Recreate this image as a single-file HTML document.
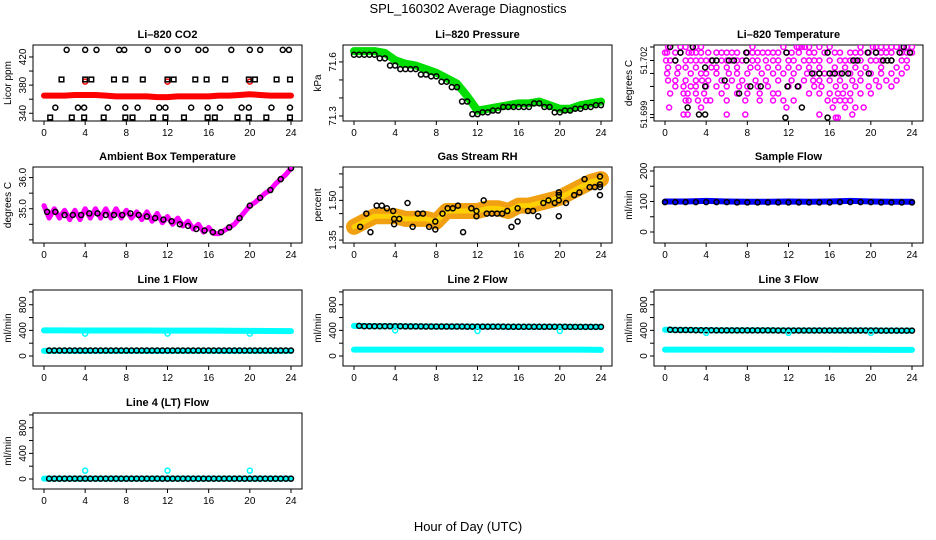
<!DOCTYPE html>
<html><head><meta charset="utf-8"><style>
html,body{margin:0;padding:0;background:#fff}
svg{display:block;font-family:"Liberation Sans",sans-serif}
</style></head><body>
<svg id="chart" width="936" height="540" viewBox="0 0 936 540">
<text x="468" y="13" text-anchor="middle" font-size="13">SPL_160302  Average Diagnostics</text>
<text x="468" y="531" text-anchor="middle" font-size="13">Hour of Day (UTC)</text>
</svg>
<script>
const xTicks=[0,4,8,12,16,20,24];
// CO2
const co2BandHour=[0,1,2,3,4,5,6,7,8,9,10,11,12,13,14,15,16,17,18,19,20,21,22,23,24];
const co2BandVal=[365,365,365,366,366,366,365,364,364,364,364,363,363,364,364,364,364,365,365,366,367,366,365,365,365];
const co2BlackHour=[2.2,4,5.1,7.3,7.8,10.1,12,13,15,15.7,18.2,20,21,23.2,23.8,1.7,4,4.6,6.8,7.9,9.6,12,12.6,14.7,15.8,17.6,19.9,20.5,22.6,23.9,1.1,3.3,3.9,6.2,7.9,9.1,11.2,11.8,14.3,15.9,17.1,19.2,19.9,22.1,23.9,0.6,2.7,3.9,5.8,7.9,8.6,10.6,11.8,13.6,15.9,16.6,18.8,19.9,21.6,23.9];
const co2BlackVal=[430,430,430,430,430,430,430,430,430,430,430,430,430,430,430,388,388,388,388,388,388,388,388,388,388,388,388,388,388,388,348,348,348,348,348,348,348,348,348,348,348,348,348,348,348,334,334,334,334,334,334,334,334,334,334,334,334,334,334,334];
const co2OutHour=[4,12,20];
const co2OutVal=[385,385,385];
// Pressure
const presHour=[0,1,2,3,4,5,6,7,8,9,10,11,12,13,14,15,16,17,18,19,20,21,22,23,24];
const presVal=[71.66,71.66,71.66,71.65,71.61,71.59,71.58,71.56,71.54,71.51,71.48,71.41,71.33,71.34,71.35,71.36,71.37,71.37,71.38,71.36,71.34,71.34,71.36,71.37,71.38];
const presBlack=[71.64,71.64,71.64,71.62,71.58,71.56,71.56,71.53,71.52,71.49,71.46,71.38,71.31,71.32,71.33,71.35,71.35,71.35,71.37,71.35,71.32,71.33,71.34,71.35,71.36];
// Temperature
const tempLevels=[51.70275,51.70244,51.702,51.70161,51.70128,51.70089,51.70056,51.70017,51.69978,51.69939,51.699,51.69883];
const tempHours=[
[0.3,0.5,1.5,2,2.7,3,3.5,8.5,11.5,12.8,13,13.3,13.6,14,15,16,19,20.2,20.5,21,21.5,22,22.5,23,23.5,24],
[0,0.2,1,1.5,2.3,2.6,3,3.5,4.2,5,5.5,6,6.5,7,8,8.5,9,9.5,10,10.5,11,11.8,12.3,13,14,14.5,15.5,16.5,17,18,18.5,19,19.8,20.5,21,21.5,22,23,23.5,24],
[0.1,0.5,1,2,2.5,3,3.5,4,4.5,5.5,6,6.5,7,7.5,8.5,9,9.8,10.5,11,12,12.5,13.5,14,14.5,15,16,17,17.5,18,18.5,19,20,20.5,21,22,23,23.5],
[0.3,1.3,2,3,4.5,5,6,7,8.3,9,10,11,12,13,14,15,16.5,17.5,18.5,19.5,21,22.5,23.5],
[0.2,1.2,2.5,3.5,4,5,6.2,7,8,9.4,10.5,11.5,12.5,13.8,14.5,15.5,16.3,17,18,19,20,21,22,23],
[0.3,1,2,3,3.6,4.2,5.5,6.5,7.5,8.8,9.8,11,12.3,13.5,14.4,15,16,17,18.2,19,20.5,21.5,22.5],
[1,1.8,2.5,3,4,5,6,7.2,8,9,10,12,13,14.5,15.2,16.6,17.5,18.5,19.8,20.8,22],
[0.5,1.8,2.2,3,3.8,5.5,7,8,9.2,10.5,11,14,15,16,16.8,17.3,18,19,20],
[2,2.3,3.2,4,4.4,6,7.8,9.2,10.5,11.5,12.5,15.8,16.5,17,17.5,18],
[0.4,3.5,11.8,16.3,17.5,18.5,19.3],
[1.8,2.2,6,7.8,15,18.2],
[16.6,16.8]];
const tempBlackHour=[0.5,1.5,1,2.7,3.9,4.6,5,6.2,6.7,7.9,7.9,5.8,8.3,9.3,2.2,3.3,3.9,3.9,7.2,11.8,11.9,12.9,13.3,15.8,16,14.3,15,16.5,17.2,17.8,18.3,18.7,19.7,19.8,20.5,21.2,21.6,22,22.8,23.2,23.8,15.8,11.7];
const tempBlackVal=[51.70275,51.70244,51.702,51.70275,51.70161,51.702,51.702,51.702,51.702,51.70244,51.702,51.70089,51.70056,51.70056,51.69939,51.699,51.699,51.70056,51.70017,51.70244,51.70056,51.70056,51.69939,51.70244,51.70128,51.70128,51.70128,51.70128,51.70128,51.70128,51.702,51.702,51.70244,51.70128,51.70244,51.702,51.702,51.702,51.70244,51.70275,51.70244,51.69883,51.69883];
// Ambient
const ambHour=[0,0.5,1,1.5,2,2.5,3,3.5,4,4.5,5,5.5,6,6.5,7,7.5,8,8.5,9,9.5,10,10.5,11,11.5,12,12.5,13,13.5,14,14.5,15,15.5,16,16.5,17,17.5,18,18.5,19,19.5,20,20.5,21,21.5,22,22.5,23,23.5,24];
const ambVal=[35.1,34.7,35.0,34.7,34.95,34.65,34.95,34.65,35.0,34.7,35.0,34.7,35.0,34.7,35.0,34.7,34.95,34.7,34.9,34.65,34.9,34.6,34.85,34.55,34.75,34.5,34.7,34.45,34.6,34.35,34.5,34.25,34.4,34.2,34.2,34.3,34.4,34.5,34.7,34.9,35.1,35.2,35.35,35.5,35.6,35.8,35.95,36.1,36.3];
const ambBlackHour=[0.3,1.1,2,2.8,3.6,4.4,5.2,6,6.8,7.6,8.4,9.2,10,10.8,11.6,12.4,13.2,14,14.8,15.6,16.4,17.2,18,19,20,21,22,23,24];
const ambBlack=[34.9,34.9,34.8,34.8,34.8,34.85,34.85,34.8,34.8,34.8,34.85,34.8,34.75,34.7,34.65,34.6,34.5,34.45,34.35,34.3,34.25,34.25,34.4,34.7,35.1,35.35,35.6,35.95,36.3];
// RH
const rhHour=[0,1,2,3,4,5,6,7,8,9,10,11,12,13,14,15,16,17,18,19,20,21,22,23,24];
const rhVal=[1.40,1.42,1.44,1.44,1.44,1.43,1.43,1.43,1.42,1.46,1.46,1.46,1.46,1.47,1.47,1.46,1.48,1.48,1.49,1.50,1.51,1.53,1.55,1.57,1.58];
const rhBlackHour=[0.6,1.2,1.6,2.2,2.7,3.2,3.8,3.9,3.9,4.4,5.2,5.7,6.2,6.7,7.3,7.9,7.9,8.6,9.1,9.6,10.1,10.6,11.4,11.9,11.9,12.6,12.9,13.4,13.9,14.4,14.9,15.3,15.9,15.9,16.9,17.4,17.9,18.4,18.9,19.5,19.9,19.9,19.9,19.9,20.6,21.4,21.9,22.4,22.9,23.4,23.9,23.9,23.9,23.9];
const rhBlackVal=[1.40,1.45,1.38,1.48,1.48,1.47,1.46,1.43,1.41,1.43,1.49,1.40,1.45,1.45,1.40,1.42,1.39,1.45,1.47,1.47,1.48,1.38,1.47,1.46,1.44,1.50,1.45,1.45,1.45,1.45,1.46,1.40,1.47,1.42,1.46,1.46,1.44,1.49,1.50,1.49,1.50,1.53,1.52,1.44,1.49,1.52,1.53,1.58,1.55,1.55,1.59,1.56,1.52,1.55];
// Flows
const flowHour=[0,2,4,6,8,10,12,14,16,18,20,22,24];
const sampleBlue=[100,100,102,100,99,99,100,99,100,102,100,99,99];
const sampleBlack=[98,98,98,98,97,97,97,97,97,98,98,97,97];
const line1High=[400,400,398,398,398,398,396,396,396,394,392,390,388];
const line1Low=[80,80,80,80,80,80,80,80,80,80,80,80,80];
const line1Black=[85,85,85,85,85,85,85,85,85,85,85,85,85];
const line2High=[470,465,465,462,460,460,458,458,456,456,456,455,455];
const line2Low=[100,100,100,100,100,100,100,100,100,100,100,100,95];
const line3High=[410,405,402,400,400,400,398,398,398,398,398,396,396];
const line3Low=[100,100,100,100,100,100,100,100,100,98,98,95,95];
const line4Low=[5,5,5,5,5,5,5,5,5,5,5,5,5];
const outHour=[4,12,20];
const line1Out=[350,350,350];
const line2Out=[400,390,390];
const line3Out=[360,360,360];
const line4Out=[130,130,130];

const NS='http://www.w3.org/2000/svg';
const svg=document.getElementById('chart');
function mk(tag,attrs,parent){const e=document.createElementNS(NS,tag);for(const k in attrs)e.setAttribute(k,attrs[k]);(parent||svg).appendChild(e);return e;}
const colL=[33,343,654], colW=269;
const rowT=[45,167,290,413], rowH=76;
function panel(col,row,title,ytitle,ymin,ymax,yticks,ylabels,name,lfs){
  const L=colL[col],T=rowT[row],R=L+colW,B=T+rowH;
  const g=mk('g',{});
  
  
  const xs=h=>L+11+h*(colW-22)/24;
  const ys=v=>B-(v-ymin)/(ymax-ymin)*rowH;
  const t=mk('text',{x:(L+R)/2,y:T-7,'text-anchor':'middle','font-size':11,'font-weight':'bold'},g);t.textContent=title;
  
  
  const yt=mk('text',{x:0,y:0,'text-anchor':'middle','font-size':10,transform:`translate(${L-22},${(T+B)/2}) rotate(-90)`},g);yt.textContent=ytitle;
  
  
  const box=mk('rect',{x:L,y:T,width:colW,height:rowH,fill:'none',stroke:'#000','stroke-width':1},g);
  
  
  xTicks.forEach(h=>{const x=xs(h);mk('line',{x1:x,x2:x,y1:B,y2:B+4,stroke:'#000'},g);
    const tx=mk('text',{x:x,y:B+15,'text-anchor':'middle','font-size':10},g);tx.textContent=h;
    
    });
  yticks.forEach((v,i)=>{const y=ys(v);mk('line',{x1:L-4,x2:L,y1:y,y2:y,stroke:'#000'},g);
    if(ylabels[i]){const tx=mk('text',{x:0,y:0,'text-anchor':'middle','font-size':lfs||10,transform:`translate(${L-7},${y}) rotate(-90)`},g);tx.textContent=ylabels[i];
    
    }});
  const clip='c'+name;
  const cp=mk('clipPath',{id:clip},g);mk('rect',{x:L,y:T,width:colW,height:rowH},cp);
  const pg=mk('g',{'clip-path':`url(#${clip})`},g);
  return {xs,ys,g:pg};
}
function band(p,hours,vals,color,w,name){
  const pl=mk('polyline',{points:hours.map((h,i)=>p.xs(h)+','+p.ys(vals[i])).join(' '),fill:'none',stroke:color,'stroke-width':w,'stroke-linejoin':'round','stroke-linecap':'round'},p.g);
  
  
}
function pts(p,hours,vals,color,name,r,sq){
  hours.forEach((h,i)=>{let e;
    if(sq) e=mk('rect',{x:p.xs(h)-2.3,y:p.ys(vals[i])-2.3,width:4.6,height:4.6,fill:'none',stroke:color,'stroke-width':1.5},p.g);
    else e=mk('circle',{cx:p.xs(h),cy:p.ys(vals[i]),r:r||2.5,fill:'none',stroke:color,'stroke-width':1.5},p.g);
    
    });
}
// CO2
let p=panel(0,0,'Li\u2013820 CO2','Licor ppm',329,437,[340,360,380,400,420],['340','','380','','420'],'co2');
band(p,co2BandHour,co2BandVal,'#ff0000',6,'co2-band');
pts(p,co2OutHour,co2OutVal,'#ff0000','co2-outlier');
pts(p,co2BlackHour.slice(0,15),co2BlackVal.slice(0,15),'#000','co2-point');
pts(p,co2BlackHour.slice(15,30),co2BlackVal.slice(15,30),'#000','co2-point',0,true);
pts(p,co2BlackHour.slice(30,45),co2BlackVal.slice(30,45),'#000','co2-point');
pts(p,co2BlackHour.slice(45),co2BlackVal.slice(45),'#000','co2-point',0,true);
// Pressure
p=panel(1,0,'Li\u2013820 Pressure','kPa',71.272,71.694,[71.3,71.4,71.5,71.6],['71.3','','','71.6'],'pressure');
band(p,presHour,presVal,'#00dd00',8,'pressure-band');
pts(p,presHour,presBlack,'#000','pressure-point');
pts(p,presHour.map(h=>h+0.5).slice(0,24),presBlack.slice(1),'#000','pressure-point');
// Temperature
p=panel(2,0,'Li\u2013820 Temperature','degrees C',51.69864,51.70286,[51.69883,51.699,51.69978,51.70056,51.70128,51.702,51.70275],['','51.699','','','','51.702',''],'temperature',9);
tempLevels.forEach((lv,i)=>pts(p,tempHours[i],tempHours[i].map(()=>lv),'#ff00ff','temperature-point'));
pts(p,tempBlackHour,tempBlackVal,'#000','temperature-black-point');
// Ambient
p=panel(0,1,'Ambient Box Temperature','degrees C',33.9,36.34,[34.0,34.5,35.0,35.5,36.0],['','','35.0','','36.0'],'ambient');
band(p,ambHour,ambVal,'#ff00ff',5,'ambient-band');
pts(p,ambBlackHour,ambBlack,'#000','ambient-point');
// RH
p=panel(1,1,'Gas Stream RH','percent',1.339,1.626,[1.35,1.40,1.45,1.50,1.55,1.60],['1.35','','','1.50','',''],'rh');
band(p,rhHour,rhVal,'#f0a010',16,'rh-band');
band(p,rhHour,rhVal,'#ffd000',5,'rh-band-core');
pts(p,rhBlackHour,rhBlackVal,'#000','rh-point');
// Sample flow
p=panel(2,1,'Sample Flow','ml/min',-36,213,[0,50,100,150,200],['0','','100','','200'],'sample-flow');
band(p,flowHour,sampleBlue,'#0000ff',6,'sample-flow-band');
pts(p,flowHour.concat(flowHour.slice(0,12).map(h=>h+1)),sampleBlack.concat(sampleBlack.slice(1)),'#000','sample-flow-point');
// Line flows
const fT=[0,200,400,600,800,1000], fL=['0','','400','','800',''];
function flowPanel(col,row,title,name,bands,black,outs){
  const q=panel(col,row,title,'ml/min',-156,1030,fT,fL,name);
  bands.forEach(b=>band(q,flowHour,b,'#00ffff',6,name+'-band'));
  const hh=flowHour.concat(flowHour.slice(0,12).map(h=>h+1)).concat(flowHour.slice(0,12).map(h=>h+0.5)).concat(flowHour.slice(0,12).map(h=>h+1.5));
  const vv=black.concat(black.slice(1)).concat(black.slice(0,12)).concat(black.slice(1));
  pts(q,hh.filter(h=>h>0.3),vv.filter((v,i)=>hh[i]>0.3),'#000',name+'-point');
  pts(q,outHour,outs,'#00ffff',name+'-outlier');
}
flowPanel(0,2,'Line 1 Flow','line1-flow',[line1High,line1Low],line1Black,line1Out);
flowPanel(1,2,'Line 2 Flow','line2-flow',[line2Low,line2High],line2High,line2Out);
flowPanel(2,2,'Line 3 Flow','line3-flow',[line3Low,line3High],line3High,line3Out);
flowPanel(0,3,'Line 4 (LT) Flow','line4-flow',[line4Low],line4Low,line4Out);
</script>
</body></html>
